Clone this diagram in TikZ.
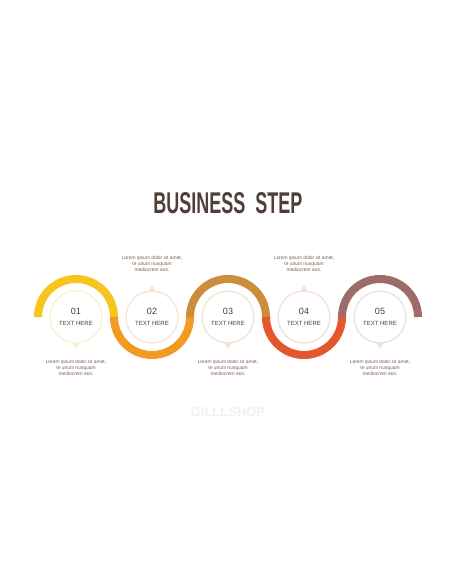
\documentclass[tikz,border=0pt]{standalone}
\usepackage{fontspec}
\setmainfont{Liberation Sans}
\usetikzlibrary{positioning}
\definecolor{titlebrown}{HTML}{4F3F38}
\definecolor{lorembrown}{HTML}{7A5A4C}
\definecolor{numgrey}{HTML}{3F3F3F}
\definecolor{stepA}{HTML}{F7C51E}
\definecolor{stepB}{HTML}{F39B21}
\definecolor{stepC}{HTML}{CC8D3C}
\definecolor{stepD}{HTML}{E4572E}
\definecolor{stepE}{HTML}{9E6B6B}
\definecolor{paleA}{HTML}{FBF1D6}
\definecolor{paleB}{HTML}{F8E7D6}
\definecolor{paleC}{HTML}{F1E4D6}
\definecolor{paleD}{HTML}{F6E0D8}
\definecolor{paleE}{HTML}{ECE2E1}
\tikzset{
  band/.style={line width=8pt,line cap=butt},
  ring/.style={circle,draw=#1,line width=1.4pt,minimum size=52pt,inner sep=0pt},
  stepnum/.style={font=\fontsize{9}{10}\selectfont,text=numgrey},
  steplabel/.style={font=\fontsize{6}{7}\selectfont,text=numgrey},
  lorem/.style={align=center,font=\fontsize{4.9}{6}\selectfont,text=lorembrown,inner sep=0pt}
}
\begin{document}
\begin{tikzpicture}[x=1pt,y=1pt]
\useasboundingbox (0,0) rectangle (456,586);
% title
\node[font=\bfseries\fontsize{30}{30}\selectfont,text=titlebrown,xscale=0.6] (title) at (228,383) {BUSINESS\ \ STEP};
% circles
\node[ring=paleA] (s1) at (76,269) {};
\node[ring=paleB] (s2) at (152,269) {};
\node[ring=paleC] (s3) at (228,269) {};
\node[ring=paleD] (s4) at (304,269) {};
\node[ring=paleE] (s5) at (380,269) {};
% pointers
\fill[paleA] ([xshift=-4pt,yshift=1pt]s1.south) -- ([xshift=4pt,yshift=1pt]s1.south) -- ([yshift=-5pt]s1.south) -- cycle;
\fill[paleB] ([xshift=-4pt,yshift=-1pt]s2.north) -- ([xshift=4pt,yshift=-1pt]s2.north) -- ([yshift=5pt]s2.north) -- cycle;
\fill[paleC] ([xshift=-4pt,yshift=1pt]s3.south) -- ([xshift=4pt,yshift=1pt]s3.south) -- ([yshift=-5pt]s3.south) -- cycle;
\fill[paleD] ([xshift=-4pt,yshift=-1pt]s4.north) -- ([xshift=4pt,yshift=-1pt]s4.north) -- ([yshift=5pt]s4.north) -- cycle;
\fill[paleE] ([xshift=-4pt,yshift=1pt]s5.south) -- ([xshift=4pt,yshift=1pt]s5.south) -- ([yshift=-5pt]s5.south) -- cycle;
% wave
\draw[band,stepA] ([xshift=-38pt]s1.center) arc[start angle=180,end angle=0,radius=38pt];
\draw[band,stepB] ([xshift=-38pt]s2.center) arc[start angle=180,end angle=360,radius=38pt];
\draw[band,stepC] ([xshift=-38pt]s3.center) arc[start angle=180,end angle=0,radius=38pt];
\draw[band,stepD] ([xshift=-38pt]s4.center) arc[start angle=180,end angle=360,radius=38pt];
\draw[band,stepE] ([xshift=-38pt]s5.center) arc[start angle=180,end angle=0,radius=38pt];
% numbers and labels
\node[stepnum] (n1) at ([yshift=6pt]s1.center) {01};
\node[steplabel] (t1) at ([yshift=-6pt]s1.center) {TEXT HERE};
\node[stepnum] (n2) at ([yshift=6pt]s2.center) {02};
\node[steplabel] (t2) at ([yshift=-6pt]s2.center) {TEXT HERE};
\node[stepnum] (n3) at ([yshift=6pt]s3.center) {03};
\node[steplabel] (t3) at ([yshift=-6pt]s3.center) {TEXT HERE};
\node[stepnum] (n4) at ([yshift=6pt]s4.center) {04};
\node[steplabel] (t4) at ([yshift=-6pt]s4.center) {TEXT HERE};
\node[stepnum] (n5) at ([yshift=6pt]s5.center) {05};
\node[steplabel] (t5) at ([yshift=-6pt]s5.center) {TEXT HERE};
% descriptions
\node[lorem] (d1) at (76,218) {Lorem ipsum dolor sit amet,\\te unum nusquam\\mediocrem eos.};
\node[lorem] (d2) at (152,322) {Lorem ipsum dolor sit amet,\\te unum nusquam\\mediocrem eos.};
\node[lorem] (d3) at (228,218) {Lorem ipsum dolor sit amet,\\te unum nusquam\\mediocrem eos.};
\node[lorem] (d4) at (304,322) {Lorem ipsum dolor sit amet,\\te unum nusquam\\mediocrem eos.};
\node[lorem] (d5) at (380,218) {Lorem ipsum dolor sit amet,\\te unum nusquam\\mediocrem eos.};
% watermark
\node[font=\bfseries\fontsize{13}{13}\selectfont,text=black!6] (mark) at (228,174) {GILLLSHOP};
\end{tikzpicture}
\end{document}
